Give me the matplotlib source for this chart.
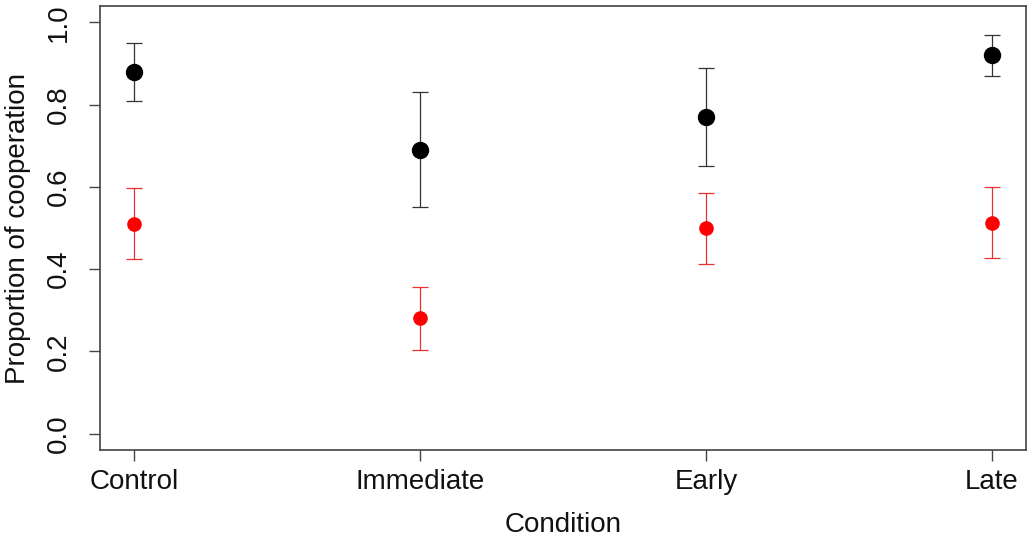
import matplotlib
matplotlib.use("Agg")
import matplotlib.pyplot as plt

conditions = ["Control", "Immediate", "Early", "Late"]
black_mean = [0.88, 0.69, 0.77, 0.92]
black_low = [0.81, 0.55, 0.65, 0.87]
black_high = [0.95, 0.83, 0.89, 0.97]
red_mean = [0.51, 0.28, 0.50, 0.513]
red_low = [0.425, 0.204, 0.413, 0.428]
red_high = [0.598, 0.356, 0.584, 0.600]
yticks = [0.0, 0.2, 0.4, 0.6, 0.8, 1.0]

plt.rcParams['font.family'] = ['Liberation Sans', 'DejaVu Sans']

fig = plt.figure(figsize=(10.28, 5.43), dpi=100)
ax = fig.add_axes([100/1028, 93/543, 926/1028, 444/543])

x = list(range(1, len(conditions) + 1))

def errs(mean, low, high):
    return [[m - l for m, l in zip(mean, low)], [h - m for m, h in zip(mean, high)]]

ax.errorbar(x, black_mean, yerr=errs(black_mean, black_low, black_high),
            fmt='o', color='black', ecolor='#333333', elinewidth=0.9,
            capsize=5.8, capthick=0.9, markersize=11.5, zorder=3)
ax.errorbar(x, red_mean, yerr=errs(red_mean, red_low, red_high),
            fmt='o', color='#ff0000', ecolor='#e83030', elinewidth=0.9,
            capsize=5.8, capthick=0.9, markersize=9.5, zorder=3)

ax.set_xlim(0.88, 4.12)
ax.set_ylim(-0.04, 1.04)
ax.set_xticks(x)
ax.set_xticklabels(conditions, fontsize=20)
ax.set_yticks(yticks)
ax.set_yticklabels([f"{v:.1f}" for v in yticks], fontsize=20, rotation=90, va='center')

for s in ax.spines.values():
    s.set_color('#444444')
    s.set_linewidth(1.2)
ax.tick_params(axis='both', length=8, width=1.0, color='#444444', labelcolor='#111111')
ax.tick_params(axis='x', pad=6)
ax.tick_params(axis='y', pad=12)

ax.set_xlabel("Condition", fontsize=20, color='#111111')
ax.xaxis.set_label_coords(0.5, (450 - 525) / 444)
ax.xaxis.label.set_va('center')
ax.set_ylabel("Proportion of cooperation", fontsize=20, color='#111111')
ax.yaxis.set_label_coords((18 - 100) / 926, 0.5)
ax.yaxis.label.set_va('center')

fig.savefig("out.png", dpi=100)
